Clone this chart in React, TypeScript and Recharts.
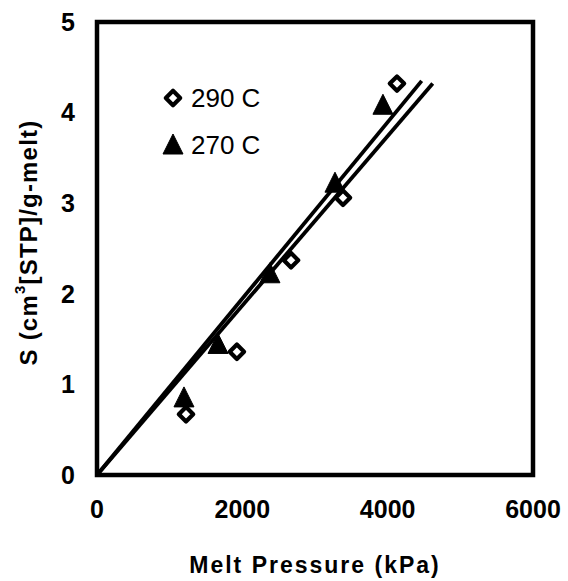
import { Label, ReferenceArea, Scatter, ScatterChart, XAxis, YAxis } from "recharts";

// 290 C (open diamonds)
const pressure290 = [1225, 1925, 2670, 3385, 4128];
const solubility290 = [0.67, 1.36, 2.37, 3.06, 4.32];
// 270 C (filled triangles)
const pressure270 = [1197, 1665, 2380, 3275, 3935];
const solubility270 = [0.84, 1.43, 2.21, 3.21, 4.07];
// fitted lines through the origin
const fitPressure290 = [0, 4620];
const fitSolubility290 = [0, 4.32];
const fitPressure270 = [0, 4468];
const fitSolubility270 = [0, 4.35];

const xTicks = [0, 2000, 4000, 6000];
const yTicks = [0, 1, 2, 3, 4, 5];
const seriesNames = ["290 C", "270 C"];

const toPoints = (xs: number[], ys: number[]) => xs.map((p, i) => ({ p, s: ys[i] }));

const data290 = toPoints(pressure290, solubility290);
const data270 = toPoints(pressure270, solubility270);
const line290 = toPoints(fitPressure290, fitSolubility290);
const line270 = toPoints(fitPressure270, fitSolubility270);

const FONT = "'Liberation Sans', Arial, sans-serif";

function Diamond({ cx, cy }: { cx?: number; cy?: number }) {
  if (cx == null || cy == null) return <g />;
  const r = 7.2;
  return (
    <polygon
      points={`${cx},${cy - r} ${cx + r},${cy} ${cx},${cy + r} ${cx - r},${cy}`}
      fill="#fff"
      stroke="#000"
      strokeWidth={4.2}
      strokeLinejoin="round"
    />
  );
}

function Triangle({ cx, cy }: { cx?: number; cy?: number }) {
  if (cx == null || cy == null) return <g />;
  return (
    <polygon
      points={`${cx},${cy - 12} ${cx + 10},${cy + 8} ${cx - 10},${cy + 8}`}
      fill="#000"
      stroke="#000"
      strokeWidth={1}
      strokeLinejoin="round"
    />
  );
}

// legend drawn inside the plot, upper left
function LegendBox() {
  const icons = [<Diamond cx={11} cy={11} />, <Triangle cx={11} cy={12} />];
  return (
    <div
      style={{
        position: "absolute",
        left: 162,
        top: 74,
        fontFamily: FONT,
        fontSize: 26,
        color: "#000",
        lineHeight: 1,
      }}
    >
      {seriesNames.map((name, i) => (
        <div key={name} style={{ display: "flex", alignItems: "center", height: 47 }}>
          <svg width={22} height={22} style={{ marginRight: 7 }}>
            {icons[i]}
          </svg>
          <span>{name}</span>
        </div>
      ))}
    </div>
  );
}

export default function App() {
  return (
    <div style={{ position: "absolute", left: 0, top: 0, width: 568, height: 581, background: "#fff" }}>
      <ScatterChart width={568} height={581} margin={{ top: 22, right: 35, bottom: 0, left: 0 }}>
        <XAxis
          type="number"
          dataKey="p"
          domain={[0, 6000]}
          ticks={xTicks}
          axisLine={false}
          tickLine={false}
          tickSize={0}
          tickMargin={25}
          height={106}
          tick={{ fill: "#000", fontSize: 25, fontWeight: "bold", fontFamily: FONT }}
        >
          <Label
            content={({ viewBox }: any) => (
              <text
                x={viewBox.x + viewBox.width / 2}
                y={viewBox.y + 90}
                textAnchor="middle"
                dominantBaseline="central"
                fontFamily={FONT}
                fontSize={23}
                fontWeight="bold"
                letterSpacing={2}
                fill="#000"
              >
                Melt Pressure (kPa)
              </text>
            )}
          />
        </XAxis>
        <YAxis
          type="number"
          dataKey="s"
          domain={[0, 5]}
          ticks={yTicks}
          axisLine={false}
          tickLine={false}
          tickSize={0}
          tickMargin={22}
          width={97}
          tick={{ fill: "#000", fontSize: 25, fontWeight: "bold", fontFamily: FONT }}
        >
          <Label
            content={({ viewBox }: any) => {
              const x = viewBox.x + 28;
              const y = viewBox.y + viewBox.height / 2 - 6;
              return (
                <text
                  x={x}
                  y={y}
                  transform={`rotate(-90, ${x}, ${y})`}
                  textAnchor="middle"
                  dominantBaseline="central"
                  fontFamily={FONT}
                  fontSize={24}
                  fontWeight="bold"
                  letterSpacing={1.2}
                  fill="#000"
                >
                  S (cm
                  <tspan dy={-9} fontSize={15}>3</tspan>
                  <tspan dy={9}>[STP]/g-melt)</tspan>
                </text>
              );
            }}
          />
        </YAxis>
        <ReferenceArea x1={0} x2={6000} y1={0} y2={5} fill="none" stroke="#000" strokeWidth={4.5} ifOverflow="visible" />
        <Scatter data={line290} line={{ stroke: "#000", strokeWidth: 3.8 }} shape={() => <g />} isAnimationActive={false} />
        <Scatter data={line270} line={{ stroke: "#000", strokeWidth: 3.8 }} shape={() => <g />} isAnimationActive={false} />
        <Scatter
          name={seriesNames[0]}
          data={data290}
          shape={(props: any) => <Diamond cx={props.cx} cy={props.cy} />}
          isAnimationActive={false}
        />
        <Scatter
          name={seriesNames[1]}
          data={data270}
          shape={(props: any) => <Triangle cx={props.cx} cy={props.cy} />}
          isAnimationActive={false}
        />
      </ScatterChart>
      <LegendBox />
    </div>
  );
}
